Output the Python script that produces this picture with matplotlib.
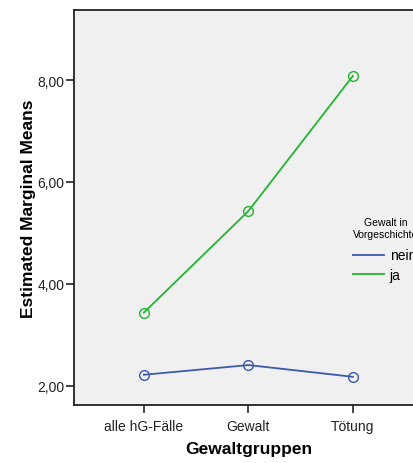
import matplotlib.pyplot as plt
from matplotlib.ticker import FuncFormatter

plt.rcParams['font.family'] = ['Liberation Sans', 'DejaVu Sans']

groups = ['alle hG-Fälle', 'Gewalt', 'Tötung']
nein = [2.22, 2.41, 2.18]
ja = [3.44, 5.43, 8.08]
series_names = ['nein', 'ja']
legend_title = 'Gewalt in\nVorgeschichte'

fig = plt.figure(figsize=(4.13, 4.64), dpi=100)
ax = fig.add_axes([0.179, 0.125, 0.845, 0.851])
ax.set_facecolor('#f0f0f0')

x = list(range(len(groups)))
ax.plot(x, nein, color='#3e58ac', lw=1.3, marker='o', ms=7, mfc='none',
        mew=1.0, label=series_names[0])
ax.plot(x, ja, color='#21b530', lw=1.3, marker='o', ms=7, mfc='none',
        mew=1.0, label=series_names[1])

ax.set_xlim(-0.67, 2.67)
ax.set_ylim(1.627, 9.37)
ax.set_xticks(x)
ax.set_xticklabels(groups, fontsize=10)
ax.set_yticks([2, 4, 6, 8])
ax.yaxis.set_major_formatter(FuncFormatter(lambda v, p: f'{v:.2f}'.replace('.', ',')))
ax.tick_params(axis='both', direction='out', length=6, width=1.2, labelsize=10, colors='#222222')
ax.tick_params(axis='y', pad=1)
ax.tick_params(axis='x', pad=4)
for s in ax.spines.values():
    s.set_linewidth(1.3)
    s.set_color('#222222')

ax.set_xlabel('Gewaltgruppen', fontsize=12.5, fontweight='bold', labelpad=6)
ax.set_ylabel('Estimated Marginal Means', fontsize=12.5, fontweight='bold', labelpad=1)

leg = fig.legend(loc='upper left', bbox_to_anchor=(0.838, 0.545), frameon=False,
                 title=legend_title, title_fontsize=7.5, fontsize=10,
                 handlelength=2.2, handletextpad=0.45, borderpad=0, labelspacing=0.38,
                 alignment='left')
leg.get_title().set_multialignment('center')
leg._legend_box.sep = 7
for h in leg.legend_handles:
    h.set_marker('')

fig.savefig('out.png', dpi=100)
